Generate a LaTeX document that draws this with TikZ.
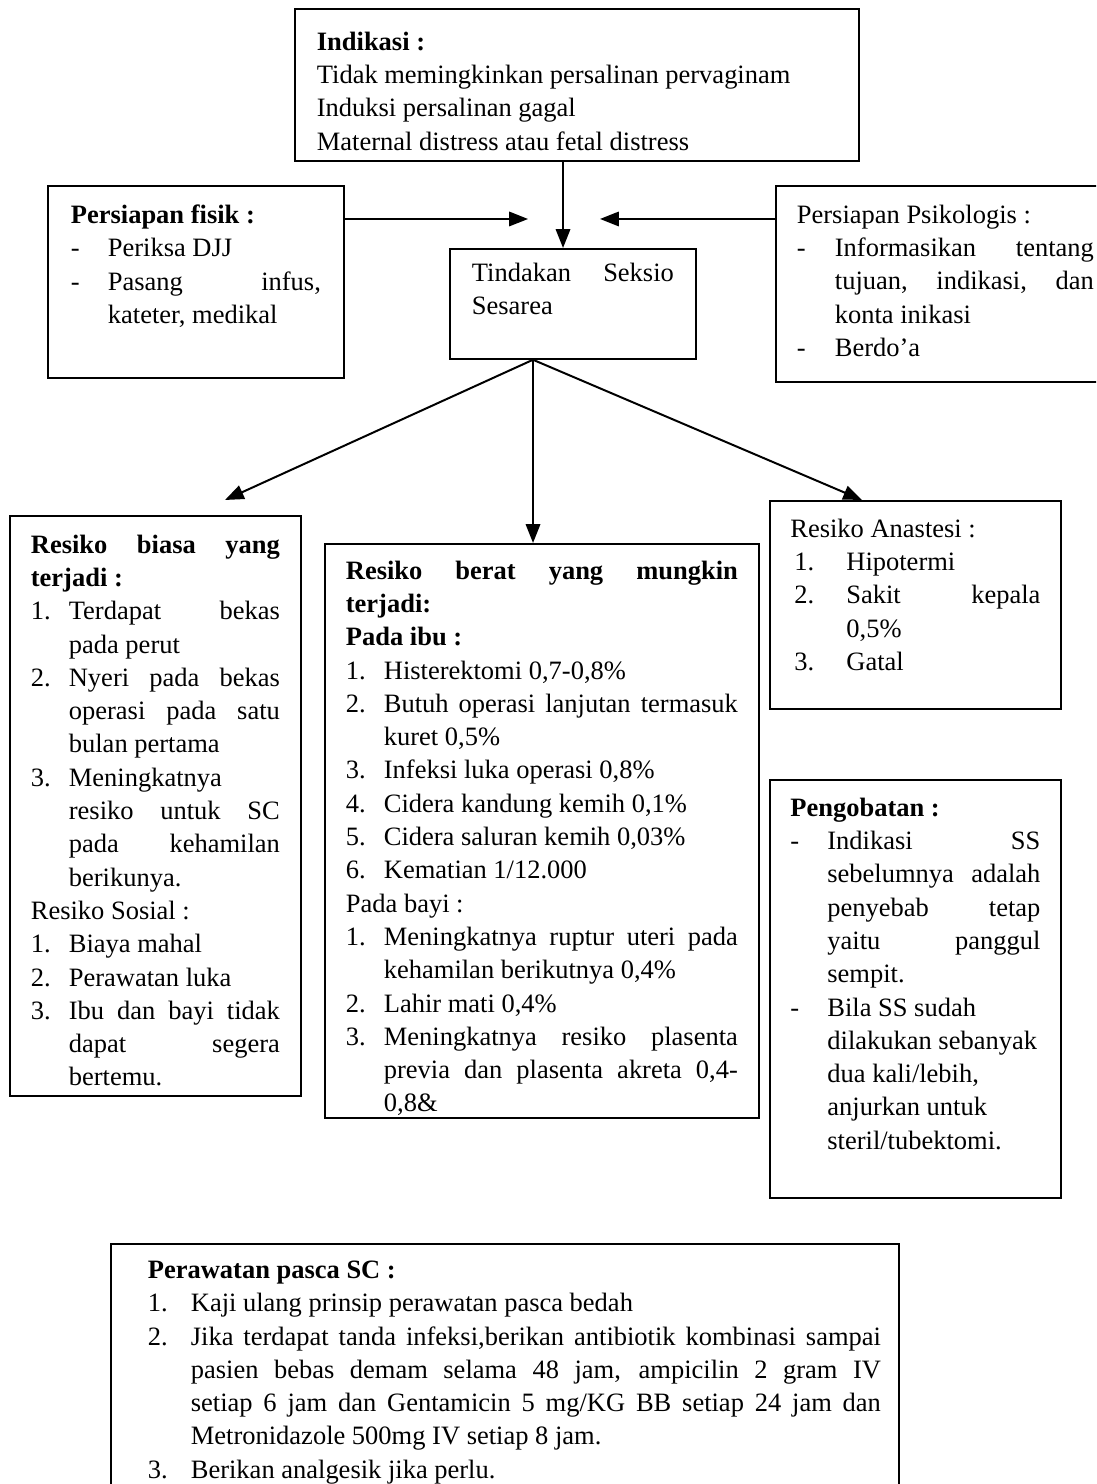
\documentclass[tikz,border=0pt]{standalone}
\usepackage{fontspec}
\setmainfont{Liberation Serif}
\usetikzlibrary{arrows.meta}
\newdimen\pix \pix=0.453pt
\tikzstyle{kotak}=[draw, line width=0.8pt, anchor=north west, inner sep=0pt]
\tikzstyle{panah}=[line width=0.9pt, -{Triangle[length=8.5pt, width=6.5pt]}]
\newcommand{\isi}[3]{\begin{minipage}[t][#2\pix][t]{#1\pix}\fontsize{12pt}{15.08pt}\selectfont
  \hyphenpenalty=10000\exhyphenpenalty=10000 #3\end{minipage}}
\newcommand{\butir}[2]{\par\noindent\hangindent=#2\pix\hangafter=1\makebox[#2\pix][l]{#1}\ignorespaces}

\begin{document}
\begin{tikzpicture}[x=0.453pt, y=-0.453pt]
\useasboundingbox (0,0) rectangle (1096,1484);
\clip (0,0) rectangle (1096,1484);
% bagian atas
\node[kotak, inner xsep=22\pix, inner ysep=23\pix] (indikasi) at (294,8) {\isi{520}{106}{%
  \textbf{Indikasi :}\\
  Tidak memingkinkan persalinan pervaginam\\
  Induksi persalinan gagal\\
  Maternal distress atau fetal distress}};
\node[kotak, inner xsep=23\pix, inner ysep=19\pix] (fisik) at (47,185) {\isi{250}{154}{%
  \textbf{Persiapan fisik :}
  \butir{-}{37}Periksa DJJ
  \butir{-}{37}Pasang infus,\linebreak kateter, medikal}};
\node[kotak, inner xsep=22\pix, inner ysep=14\pix] (tindakan) at (449,248) {\isi{202}{82}{%
  Tindakan Seksio\linebreak Sesarea}};
\node[kotak, inner xsep=21\pix, inner ysep=19\pix] (psiko) at (775,185) {\isi{297}{158}{%
  Persiapan Psikologis :
  \butir{-}{38}Informasikan tentang\linebreak tujuan, indikasi, dan\linebreak konta inikasi
  \butir{-}{38}Berdo’a}};
% resiko
\node[kotak, inner xsep=21\pix, inner ysep=19\pix] (biasa) at (9,515) {\isi{249}{542}{%
  \textbf{Resiko biasa yang\linebreak terjadi :}
  \butir{1.}{38}Terdapat bekas\linebreak pada perut
  \butir{2.}{38}Nyeri pada bekas\linebreak operasi pada satu\linebreak bulan pertama
  \butir{3.}{38}Meningkatnya\\ resiko untuk SC\linebreak pada kehamilan\linebreak berikunya.
  \par Resiko Sosial :
  \butir{1.}{38}Biaya mahal
  \butir{2.}{38}Perawatan luka
  \butir{3.}{38}Ibu dan bayi tidak\linebreak dapat segera\linebreak bertemu.}};
\node[kotak, inner xsep=21\pix, inner ysep=17\pix] (berat) at (324,543) {\isi{392}{540}{%
  \textbf{Resiko berat yang mungkin\linebreak terjadi:}
  \par\textbf{Pada ibu :}
  \butir{1.}{38}Histerektomi 0,7-0,8\%
  \butir{2.}{38}Butuh operasi lanjutan termasuk\linebreak kuret 0,5\%
  \butir{3.}{38}Infeksi luka operasi 0,8\%
  \butir{4.}{38}Cidera kandung kemih 0,1\%
  \butir{5.}{38}Cidera saluran kemih 0,03\%
  \butir{6.}{38}Kematian 1/12.000
  \par Pada bayi :
  \butir{1.}{38}Meningkatnya ruptur uteri pada\linebreak kehamilan berikutnya 0,4\%
  \butir{2.}{38}Lahir mati 0,4\%
  \butir{3.}{38}Meningkatnya resiko plasenta\linebreak previa dan plasenta akreta 0,4-\linebreak 0,8\&}};
\node[kotak, inner xsep=20.5\pix, inner ysep=18\pix] (anastesi) at (769,500) {\isi{250}{172}{%
  Resiko Anastesi :
  \butir{\hspace*{4\pix}1.}{56}Hipotermi
  \butir{\hspace*{4\pix}2.}{56}Sakit kepala\linebreak 0,5\%
  \butir{\hspace*{4\pix}3.}{56}Gatal}};
\node[kotak, inner xsep=20.5\pix, inner ysep=18\pix] (obat) at (769,779) {\isi{250}{382}{%
  \textbf{Pengobatan :}
  \butir{-}{37}Indikasi SS\linebreak sebelumnya adalah\linebreak penyebab tetap\linebreak yaitu panggul\linebreak sempit.
  \butir{-}{37}Bila SS sudah\\ dilakukan sebanyak\\ dua kali/lebih,\\ anjurkan untuk\\ steril/tubektomi.}};
% perawatan
\node[kotak, inner xsep=18\pix, inner ysep=17\pix] (pasca) at (110,1243) {\isi{752}{243}{%
  \leftskip=19\pix
  \textbf{Perawatan pasca SC :}
  \butir{1.}{43}Kaji ulang prinsip perawatan pasca bedah
  \butir{2.}{43}Jika terdapat tanda infeksi,berikan antibiotik kombinasi sampai\linebreak pasien bebas demam selama 48 jam, ampicilin 2 gram IV\linebreak setiap 6 jam dan Gentamicin 5 mg/KG BB setiap 24 jam dan\linebreak Metronidazole 500mg IV setiap 8 jam.
  \butir{3.}{43}Berikan analgesik jika perlu.}};
% panah
\coordinate (masuk) at (563,248);
\coordinate (ujungfisik) at (528,219);
\coordinate (ujungpsiko) at (600,219);
\coordinate (cabang) at (533,358);
\coordinate (ujungbiasa) at (225,500);
\coordinate (ujunganas) at (862,500);
\draw[panah] (indikasi.south -| masuk) -- (masuk);
\draw[panah] (fisik.east |- ujungfisik) -- (ujungfisik);
\draw[panah] (psiko.west |- ujungpsiko) -- (ujungpsiko);
\draw[panah] (tindakan.south -| cabang) -- (ujungbiasa);
\draw[panah] (tindakan.south -| cabang) -- (berat.north -| cabang);
\draw[panah] (tindakan.south -| cabang) -- (ujunganas);
\end{tikzpicture}
\end{document}
